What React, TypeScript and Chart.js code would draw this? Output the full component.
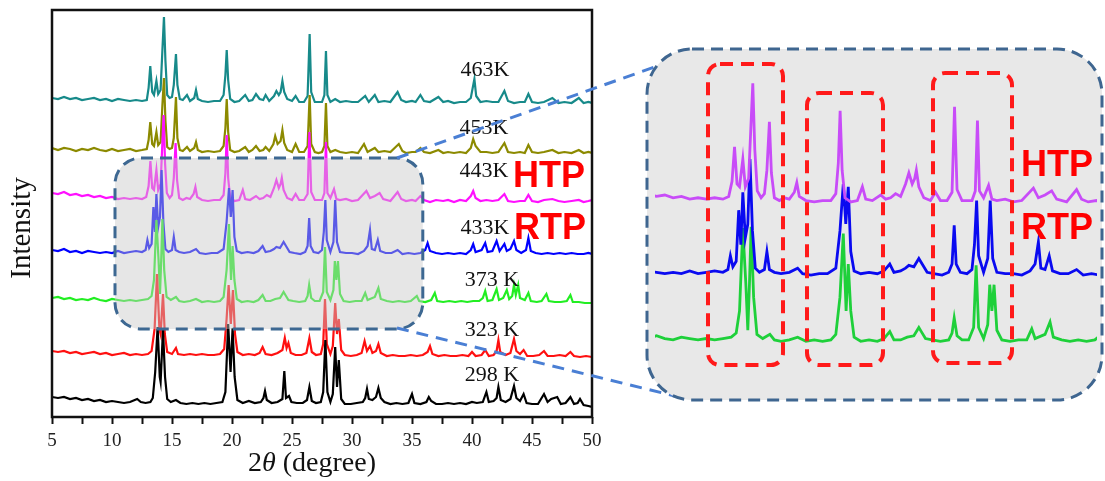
import React, { useEffect, useRef } from "react";
import { Chart, registerables } from "chart.js";
Chart.register(...registerables);

// ---------------- data ----------------
const temperatures = ["298 K", "323 K", "373 K", "433K", "443K", "453K", "463K"];
const offsets = [15, 63, 117, 165, 219, 267, 317];
const majorTicks = [5, 10, 15, 20, 25, 30, 35, 40, 45, 50];

const s463K: number[][] = [[5,2],[5.5,1],[6,3],[6.5,1],[7,2],[7.5,0],[8,1],[8.5,2],[9,0],[9.5,1],[10,-1],[10.5,1],[11,0],[11.5,-1],[12,0],[12.5,-1],[12.9,0],[13.05,12],[13.19,34],[13.35,8],[13.5,5],[13.7,19],[13.85,6],[14.05,10],[14.2,50],[14.33,83],[14.45,40],[14.6,5],[14.8,2],[15,3],[15.15,15],[15.33,46],[15.45,15],[15.65,1],[15.9,0],[16.25,5],[16.5,-1],[16.85,2],[17,10],[17.15,1],[17.5,-1],[18,-2],[18.5,-1],[19,-1],[19.3,5],[19.45,25],[19.56,50],[19.68,20],[19.85,1],[20.2,-2],[20.6,-1],[21.1,5],[21.4,-1],[21.7,0],[22,6],[22.3,1],[22.6,0],[22.8,5],[23.1,-1],[23.5,4],[23.7,9],[23.9,5],[24.05,8],[24.2,19],[24.35,8],[24.6,1],[25,-1],[25.3,4],[25.6,-2],[26,-2],[26.3,4],[26.47,66],[26.6,8],[26.9,-2],[27.2,-2],[27.5,-2],[27.7,5],[27.83,49],[27.95,5],[28.2,-2],[28.6,1],[29,-2],[29.5,-1],[30,-2],[30.5,-2],[31.1,4],[31.4,-2],[31.9,5],[32.2,-2],[32.7,-1],[33.2,-2],[33.8,8],[34.1,0],[34.5,-2],[35,-1],[35.3,-2],[35.7,5],[36,-1],[36.5,-2],[37.2,3],[37.6,-2],[38,-1],[38.5,-3],[39,-2],[39.5,-2],[39.9,2],[40.2,21],[40.35,4],[40.7,-2],[41.2,-1],[41.7,-2],[42.2,-2],[42.7,9],[43,-1],[43.5,-3],[44,-2],[44.4,-2],[44.7,6],[45,-2],[45.5,-3],[46,-2],[46.7,2],[47.2,-3],[47.7,-2],[48.3,-3],[48.9,2],[49.3,-3],[49.7,-2],[50,-3]];

const s453K: number[][] = [[5,2],[5.5,0],[6,2],[6.5,1],[7,-1],[7.5,1],[8,0],[8.5,2],[9,0],[9.5,-1],[10,1],[10.5,-1],[11,0],[11.5,1],[12,-1],[12.5,0],[12.9,1],[13.05,10],[13.19,28],[13.35,6],[13.5,4],[13.7,18],[13.85,5],[14.05,8],[14.2,45],[14.33,72],[14.45,30],[14.6,3],[14.8,1],[15,2],[15.15,12],[15.33,53],[15.45,12],[15.65,0],[15.9,-1],[16.25,3],[16.5,-1],[16.85,2],[17,8],[17.15,0],[17.5,-2],[18,-1],[18.5,-2],[19,-1],[19.3,4],[19.45,22],[19.56,51],[19.68,18],[19.85,0],[20.2,-2],[20.6,-1],[21.1,3],[21.4,-2],[21.7,0],[22,4],[22.3,-1],[22.6,0],[22.8,3],[23.1,-1],[23.45,6],[23.6,14],[23.8,6],[24.05,9],[24.2,20],[24.35,7],[24.6,0],[25,-2],[25.3,6],[25.6,-2],[26,-2],[26.3,4],[26.47,55],[26.6,6],[26.9,-2],[27.2,-3],[27.5,-2],[27.7,4],[27.83,47],[27.95,4],[28.2,-2],[28.6,0],[29,-2],[29.5,-3],[30,-2],[30.5,-3],[31,6],[31.3,-2],[31.9,2],[32.2,-2],[32.7,-1],[33.2,-2],[33.9,6],[34.2,-1],[34.5,-3],[35,-2],[35.3,-2],[35.7,2],[36,-2],[36.5,-3],[37.2,0],[37.6,-3],[38,-2],[38.5,-3],[39,-2],[39.5,-3],[39.9,2],[40.1,11],[40.3,4],[40.7,-2],[41.2,-2],[41.7,-3],[42.2,-2],[42.7,7],[43,-2],[43.5,-3],[44,-2],[44.4,-3],[44.7,5],[45,-2],[45.5,-3],[46,-2],[46.7,0],[47.2,-3],[47.7,-2],[48.3,-3],[48.9,0],[49.3,-3],[49.7,-2],[50,-3]];

const s443K: number[][] = [[5,5],[5.5,4],[6,6],[6.5,3],[7,4],[7.5,2],[8,3],[8.5,1],[9,2],[9.5,0],[10,1],[10.5,-1],[11,0],[11.5,-1],[12,0],[12.5,-1],[12.85,1],[13.05,12],[13.2,37],[13.35,10],[13.5,8],[13.7,28],[13.85,8],[14.05,14],[14.18,50],[14.3,83],[14.42,35],[14.57,5],[14.8,0],[15,3],[15.15,20],[15.3,55],[15.42,18],[15.6,0],[15.9,-2],[16.2,0],[16.5,-1],[16.8,4],[16.95,11],[17.1,1],[17.5,-2],[18,-3],[18.5,-2],[19,-2],[19.3,3],[19.45,25],[19.56,63],[19.68,20],[19.85,0],[20.2,-3],[20.6,-2],[20.9,8],[21.1,-1],[21.5,-2],[22,2],[22.3,-1],[22.6,0],[22.9,3],[23.2,1],[23.5,10],[23.7,18],[23.9,10],[24.05,14],[24.15,20],[24.3,8],[24.6,0],[25,-2],[25.3,4],[25.6,-2],[26,-2],[26.3,4],[26.45,66],[26.6,6],[26.9,-2],[27.2,-2],[27.5,-2],[27.7,5],[27.83,56],[27.95,5],[28.2,0],[28.5,9],[28.7,-1],[29,-2],[29.5,-1],[30,-3],[30.5,-2],[31.2,7],[31.5,0],[31.9,2],[32.3,5],[32.6,-1],[33.2,-3],[33.8,6],[34.1,-1],[34.5,-3],[35,-2],[35.3,-3],[35.7,2],[36,-2],[36.5,-4],[37,-2],[37.6,-3],[38,-2],[38.5,-4],[39,-2],[39.5,-3],[39.9,2],[40.1,7],[40.3,0],[40.7,-3],[41.2,-2],[41.7,-3],[42.2,-2],[42.7,4],[43,-3],[43.5,-4],[44,-3],[44.4,-3],[44.7,3],[45,-3],[45.5,-4],[46,-2],[46.7,-1],[47.2,-3],[47.7,-4],[48.3,-3],[48.9,-2],[49.3,-4],[49.7,-3],[50,-2]];

const s433K: number[][] = [[5,2],[5.5,1],[6,3],[6.5,0],[7,1],[7.5,-1],[8,1],[8.5,0],[9,-1],[9.5,0],[10,-1],[10.5,1],[11,-1],[11.5,0],[12,1],[12.5,0],[12.8,2],[12.95,12],[13.1,4],[13.3,8],[13.45,45],[13.58,20],[13.7,58],[13.85,25],[14,35],[14.13,82],[14.28,30],[14.45,3],[14.7,0],[15,2],[15.15,15],[15.3,2],[15.6,0],[16,-1],[16.5,0],[17,3],[17.3,-1],[17.8,-2],[18.3,-1],[18.8,-1],[19.3,3],[19.55,30],[19.75,64],[19.9,35],[20.05,62],[20.2,15],[20.4,1],[20.8,-1],[21.3,0],[21.8,-1],[22.2,1],[22.55,6],[22.8,0],[23.2,1],[23.5,3],[23.7,5],[24,4],[24.3,10],[24.5,6],[24.8,0],[25.2,-1],[25.7,-2],[26.1,0],[26.3,6],[26.43,34],[26.55,6],[26.8,0],[27.2,-1],[27.5,2],[27.65,20],[27.78,52],[27.9,12],[28.2,0],[28.45,10],[28.6,52],[28.75,10],[29,0],[29.5,-1],[30,-1],[30.5,-2],[31,1],[31.3,6],[31.5,22],[31.65,3],[31.9,2],[32.15,12],[32.35,1],[32.8,-1],[33.3,-1],[33.8,2],[34.2,-2],[34.7,-1],[35.2,-2],[35.7,-1],[36.1,2],[36.3,9],[36.5,1],[37,-1],[37.5,-2],[38,-1],[38.5,-2],[39,-1],[39.5,-2],[39.9,2],[40.1,8],[40.3,0],[40.8,2],[41.1,9],[41.3,0],[41.7,1],[42.05,11],[42.3,1],[42.7,8],[42.9,1],[43.2,3],[43.5,11],[43.7,2],[44.1,-1],[44.5,2],[44.7,14],[44.9,1],[45.3,-1],[45.8,-2],[46.3,-1],[46.8,-2],[47.3,-1],[47.8,-2],[48.3,-1],[48.8,-2],[49.3,-2],[49.7,-1],[50,-2]];

const s373K: number[][] = [[5,2],[5.5,3],[6,1],[6.5,2],[7,0],[7.5,1],[8,0],[8.5,2],[9,0],[9.5,-1],[10,1],[10.5,0],[11,-1],[11.5,0],[12,-1],[12.5,0],[13,1],[13.3,4],[13.5,20],[13.7,80],[13.88,40],[14,6],[14.1,40],[14.2,81],[14.35,30],[14.55,3],[14.9,0],[15.33,3],[15.6,-1],[16,-2],[16.5,-1],[17,1],[17.5,-2],[18,-1],[18.5,-2],[19,-1],[19.3,3],[19.55,30],[19.75,76],[19.92,20],[20.05,54],[20.2,20],[20.4,1],[20.8,-2],[21.3,-1],[21.8,-2],[22.2,0],[22.55,5],[22.8,-1],[23.2,-1],[23.6,1],[24,2],[24.3,8],[24.45,5],[24.7,0],[25.1,-1],[25.6,-2],[26.1,-1],[26.3,4],[26.43,15],[26.6,2],[26.9,-1],[27.3,-1],[27.6,8],[27.75,53],[27.9,8],[28.2,0],[28.45,10],[28.57,39],[28.7,20],[28.83,39],[29,6],[29.3,-1],[29.8,-2],[30.3,-1],[30.8,-1],[31.1,7],[31.3,0],[31.9,3],[32.2,12],[32.4,1],[32.9,-1],[33.4,-2],[33.9,-1],[34.4,-2],[34.9,-1],[35.4,4],[35.6,-1],[36.1,-2],[36.6,0],[36.9,7],[37.1,-1],[37.6,-2],[38.1,-1],[38.6,-2],[39.1,-1],[39.6,-2],[40.1,-1],[40.6,-1],[40.9,2],[41.1,9],[41.3,-1],[41.7,0],[42.05,11],[42.25,0],[42.6,2],[42.9,10],[43.1,1],[43.35,4],[43.5,15],[43.65,5],[43.85,15],[44,2],[44.4,0],[44.7,7],[44.9,-1],[45.4,-2],[45.8,-1],[46.2,6],[46.4,-1],[46.9,-2],[47.4,-2],[47.9,-1],[48.2,5],[48.4,-2],[48.9,-2],[49.4,-3],[50,-3]];

const s323K: number[][] = [[5,3],[5.5,2],[6,3],[6.5,1],[7,2],[7.5,0],[8,1],[8.5,2],[9,0],[9.5,1],[10,-1],[10.5,0],[11,1],[11.5,-1],[12,0],[12.5,-1],[13,0],[13.3,3],[13.55,25],[13.75,80],[13.95,25],[14.05,20],[14.25,60],[14.4,20],[14.6,2],[15,0],[15.33,6],[15.5,0],[16,-1],[16.5,0],[17,-1],[17.5,0],[18,-1],[18.5,-1],[19,0],[19.35,5],[19.55,35],[19.72,69],[19.9,30],[20.08,64],[20.25,20],[20.45,2],[20.9,-1],[21.4,0],[21.9,-1],[22.3,1],[22.55,7],[22.8,0],[23.3,-1],[23.8,1],[24.2,4],[24.4,16],[24.55,6],[24.7,11],[24.9,1],[25.3,-1],[25.8,-1],[26.2,1],[26.45,16],[26.65,2],[27,-1],[27.4,0],[27.6,10],[27.75,55],[27.9,10],[28.2,0],[28.4,8],[28.6,51],[28.75,20],[28.9,35],[29.1,4],[29.4,-1],[29.9,-2],[30.4,-1],[30.8,1],[31.05,13],[31.25,3],[31.5,8],[31.7,1],[32,3],[32.2,10],[32.4,1],[32.9,-2],[33.4,-1],[33.9,-2],[34.4,-2],[34.9,-1],[35.4,-2],[35.9,-1],[36.3,2],[36.5,8],[36.7,0],[37.2,-2],[37.7,-1],[38.2,-2],[38.7,-2],[39.2,-1],[39.7,-2],[40,2],[40.3,-2],[40.8,-1],[41.1,4],[41.4,-2],[41.8,-1],[42.05,3],[42.2,14],[42.35,2],[42.8,-1],[43.2,1],[43.5,15],[43.7,3],[44,0],[44.3,4],[44.6,-2],[45.1,-2],[45.6,-1],[46,3],[46.3,-2],[46.8,-2],[47.3,-1],[47.8,-2],[48.2,2],[48.5,-2],[49,-3],[49.5,-2],[50,-3]];

const s298K: number[][] = [[5,5],[5.5,4],[6,5],[6.5,3],[7,4],[7.5,2],[8,3],[8.5,1],[9,2],[9.5,0],[10,1],[10.5,0],[11,-1],[11.5,0],[12.1,3],[12.4,0],[12.8,-1],[13.2,0],[13.4,4],[13.6,30],[13.8,75],[13.98,25],[14.05,20],[14.25,72],[14.42,25],[14.6,3],[14.9,0],[15.33,2],[15.7,-1],[16.2,-2],[16.7,-1],[17.2,-2],[17.7,-1],[18.2,-2],[18.7,-1],[19.2,0],[19.45,10],[19.68,78],[19.88,30],[20.05,74],[20.22,25],[20.45,2],[20.9,-1],[21.4,1],[21.9,-1],[22.4,0],[22.62,4],[22.75,11],[22.9,2],[23.3,-1],[23.8,0],[24.2,3],[24.36,31],[24.5,4],[24.75,6],[24.95,0],[25.4,-1],[25.9,-1],[26.25,2],[26.45,15],[26.65,1],[27,-1],[27.4,0],[27.6,10],[27.78,62],[27.95,10],[28.2,0],[28.4,8],[28.6,55],[28.75,15],[28.9,42],[29.1,3],[29.4,-2],[29.9,-2],[30.4,-1],[30.9,0],[31.1,4],[31.25,13],[31.4,3],[31.7,2],[32,5],[32.2,14],[32.4,4],[32.7,0],[33.2,-2],[33.7,-1],[34.2,-2],[34.7,-1],[35,8],[35.2,-1],[35.7,-2],[36.2,0],[36.4,5],[36.6,1],[37,-2],[37.5,-2],[38,-1],[38.5,-2],[39,-1],[39.5,-2],[40,0],[40.4,-1],[40.9,0],[41.2,10],[41.4,0],[41.8,1],[42.05,4],[42.2,15],[42.4,2],[42.8,0],[43.2,3],[43.5,16],[43.7,4],[44,1],[44.3,8],[44.55,-1],[45,-2],[45.5,-2],[46,8],[46.3,0],[46.6,3],[47.1,5],[47.4,-2],[47.8,-1],[48.2,5],[48.5,-2],[48.8,-1],[49,3],[49.3,-3],[49.7,-4],[50,-5]];

const seriesValues = [s298K, s323K, s373K, s433K, s443K, s453K, s463K];

// inset shows 443K (HTP), 433K (RTP), 373K
const insetIndices = [4, 3, 2];
const insetLabels = ["HTP", "RTP"];

// ---------------- styles / layout ----------------
const mainColors = ["#000000", "#ff1010", "#22ee22", "#0000ff", "#ff10ff", "#8c8a00", "#178a8a"];
const insetColors = ["#c84cf8", "#0a0af0", "#1ed03a"];
const SERIF = '"Liberation Serif", "Times New Roman", serif';
const SANS = '"Liberation Sans", Arial, sans-serif';

const labelPos = [
  [492, 375], [492, 330], [492, 280], [485, 228], [484, 171], [484, 128], [485, 70],
];
const phaseMain = [[549, 177], [550, 229]];
const zoomRegion = { x0: 10.25, x1: 35.9, y0: 88, y1: 259 };
const INSET = { left: 640, top: 40, w: 465, h: 370 };
const insetBox = { x0: 647, y0: 49, x1: 1102, y1: 400, r: 45 };
const redBoxes = [
  [708, 64, 783, 365],
  [807, 93, 883, 365],
  [933, 73, 1012, 363],
];
const phaseInset = [[1057, 166], [1057, 229]];
const connectors = [
  [397, 158, 666, 63],
  [397, 328, 683, 398],
];

function build(values: number[][], offset: number) {
  return values.map(([x, y]) => ({ x, y: y + offset }));
}

export default function App() {
  const mainRef = useRef<HTMLCanvasElement | null>(null);
  const insetRef = useRef<HTMLCanvasElement | null>(null);

  useEffect(() => {
    const mainDecor = {
      id: "mainDecor",
      afterDatasetsDraw(chart: any) {
        const { ctx, chartArea: a, scales } = chart;
        const x = scales.x, y = scales.y;
        const L = x.getPixelForValue(zoomRegion.x0);
        const R = x.getPixelForValue(zoomRegion.x1);
        const T = y.getPixelForValue(zoomRegion.y1);
        const B = y.getPixelForValue(zoomRegion.y0);
        ctx.save();
        ctx.beginPath();
        ctx.roundRect(L, T, R - L, B - T, 26);
        ctx.fillStyle = "rgba(200,200,200,0.45)";
        ctx.fill();
        ctx.setLineDash([12, 7]);
        ctx.lineWidth = 3;
        ctx.strokeStyle = "#3d6892";
        ctx.stroke();
        ctx.restore();
        // frame
        ctx.save();
        ctx.strokeStyle = "#111";
        ctx.lineWidth = 2.5;
        ctx.strokeRect(a.left, a.top, a.right - a.left, a.bottom - a.top);
        ctx.restore();
      },
      afterDraw(chart: any) {
        const { ctx } = chart;
        ctx.save();
        ctx.fillStyle = "#111";
        ctx.textAlign = "center";
        ctx.textBaseline = "middle";
        ctx.font = `22px ${SERIF}`;
        temperatures.forEach((t, i) => {
          ctx.fillText(t, labelPos[i][0], labelPos[i][1]);
        });
        ctx.fillStyle = "#ff0000";
        ctx.font = `bold 36px ${SANS}`;
        insetLabels.forEach((t, i) => ctx.fillText(t, phaseMain[i][0], phaseMain[i][1]));
        // axis titles
        ctx.fillStyle = "#111";
        ctx.save();
        ctx.translate(22, 228);
        ctx.rotate(-Math.PI / 2);
        ctx.font = `29px ${SERIF}`;
        ctx.fillText("Intensity", 0, 0);
        ctx.restore();
        const parts: [string, string][] = [["2", `28px ${SERIF}`], ["θ", `italic 28px ${SERIF}`], [" (degree)", `28px ${SERIF}`]];
        let total = 0;
        parts.forEach(([s, f]) => { ctx.font = f; total += ctx.measureText(s).width; });
        let cx = 312 - total / 2;
        ctx.textAlign = "left";
        ctx.textBaseline = "alphabetic";
        parts.forEach(([s, f]) => { ctx.font = f; ctx.fillText(s, cx, 471); cx += ctx.measureText(s).width; });
        // connectors
        ctx.strokeStyle = "#4a7fd4";
        ctx.lineWidth = 3;
        ctx.setLineDash([12, 8]);
        connectors.forEach(([x1, y1, x2, y2]) => {
          ctx.beginPath();
          ctx.moveTo(x1, y1);
          ctx.lineTo(x2, y2);
          ctx.stroke();
        });
        ctx.restore();
      },
    };

    const main = new Chart(mainRef.current as HTMLCanvasElement, {
      type: "line",
      data: {
        datasets: seriesValues.map((v, i) => ({
          label: temperatures[i],
          data: build(v, offsets[i]),
          borderColor: mainColors[i],
          borderWidth: 2.2,
          pointRadius: 0,
          tension: 0,
          fill: false,
        })),
      },
      options: {
        responsive: false,
        animation: false,
        devicePixelRatio: 1,
        layout: { padding: { top: 10, right: 513, left: 0, bottom: 0 } },
        plugins: { legend: { display: false }, tooltip: { enabled: false } },
        events: [],
        scales: {
          x: {
            type: "linear",
            min: 5,
            max: 50,
            border: { display: false },
            grid: { drawOnChartArea: false, tickLength: 7, tickWidth: 2, tickColor: "#111" },
            ticks: {
              stepSize: 2.5,
              autoSkip: false,
              maxRotation: 0,
              padding: 6,
              color: "#222",
              font: { family: SERIF, size: 19 },
              callback: (v: any) => (majorTicks.includes(Number(v)) ? String(v) : ""),
            },
            afterFit: (s: any) => { s.height = 64; },
          },
          y: {
            type: "linear",
            min: 0,
            max: 407,
            border: { display: false },
            grid: { display: false },
            ticks: { display: false },
            afterFit: (s: any) => { s.width = 52; },
          },
        },
      } as any,
      plugins: [mainDecor],
    });

    const ox = INSET.left, oy = INSET.top;
    const insetDecor = {
      id: "insetDecor",
      beforeDraw(chart: any) {
        const { ctx } = chart;
        ctx.save();
        ctx.beginPath();
        ctx.roundRect(insetBox.x0 - ox, insetBox.y0 - oy, insetBox.x1 - insetBox.x0, insetBox.y1 - insetBox.y0, insetBox.r);
        ctx.fillStyle = "#e8e8e8";
        ctx.fill();
        ctx.restore();
      },
      afterDatasetsDraw(chart: any) {
        const { ctx } = chart;
        ctx.save();
        ctx.beginPath();
        ctx.roundRect(insetBox.x0 - ox, insetBox.y0 - oy, insetBox.x1 - insetBox.x0, insetBox.y1 - insetBox.y0, insetBox.r);
        ctx.setLineDash([12, 7]);
        ctx.lineWidth = 3;
        ctx.strokeStyle = "#3f6690";
        ctx.stroke();
        ctx.setLineDash([13, 8]);
        ctx.lineWidth = 4;
        ctx.strokeStyle = "#ff1a1a";
        redBoxes.forEach(([x0, y0, x1, y1]) => {
          ctx.beginPath();
          ctx.roundRect(x0 - ox, y0 - oy, x1 - x0, y1 - y0, 12);
          ctx.stroke();
        });
        ctx.fillStyle = "#ff0000";
        ctx.font = `bold 36px ${SANS}`;
        ctx.textAlign = "center";
        ctx.textBaseline = "middle";
        insetLabels.forEach((t, i) => ctx.fillText(t, phaseInset[i][0] - ox, phaseInset[i][1] - oy));
        ctx.restore();
      },
    };

    const inset = new Chart(insetRef.current as HTMLCanvasElement, {
      type: "line",
      data: {
        datasets: insetIndices.map((idx, i) => ({
          label: temperatures[idx],
          data: build(seriesValues[idx], offsets[idx]),
          borderColor: insetColors[i],
          borderWidth: 2.8,
          pointRadius: 0,
          tension: 0,
          fill: false,
        })),
      },
      options: {
        responsive: false,
        animation: false,
        devicePixelRatio: 1,
        events: [],
        layout: { padding: { top: 10, right: 8, left: 15, bottom: 10 } },
        plugins: { legend: { display: false }, tooltip: { enabled: false } },
        scales: {
          x: { type: "linear", display: false, min: 8.41, max: 35.03 },
          y: { type: "linear", display: false, min: 72.46, max: 326.1 },
        },
      } as any,
      plugins: [insetDecor],
    });

    return () => {
      main.destroy();
      inset.destroy();
    };
  }, []);

  return (
    <div style={{ position: "absolute", left: 0, top: 0, width: 1105, height: 481, background: "#fff" }}>
      <canvas ref={mainRef} width={1105} height={481} style={{ position: "absolute", left: 0, top: 0 }} />
      <canvas
        ref={insetRef}
        width={INSET.w}
        height={INSET.h}
        style={{ position: "absolute", left: INSET.left, top: INSET.top }}
      />
    </div>
  );
}
